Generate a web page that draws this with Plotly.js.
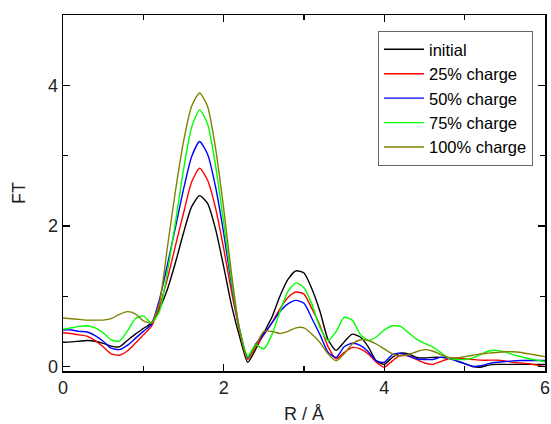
<!DOCTYPE html>
<html>
<head>
<meta charset="utf-8">
<script src="https://cdn.plot.ly/plotly-3.0.1.min.js"></script>
<style>html,body{margin:0;padding:0;background:#fff;}#chart{width:551px;height:424px;}</style>
</head>
<body>
<div id="chart"></div>
<script>
const R = [0,0.1,0.2,0.3,0.4,0.5,0.6,0.7,0.8,0.9,1.0,1.1,1.2,1.3,1.4,1.5,1.6,1.7,1.8,1.9,2.0,2.1,2.2,2.3,2.4,2.5,2.6,2.7,2.8,2.9,3.0,3.1,3.2,3.3,3.4,3.5,3.6,3.7,3.8,3.9,4.0,4.1,4.2,4.3,4.4,4.5,4.6,4.7,4.8,4.9,5.0,5.1,5.2,5.3,5.4,5.5,5.6,5.7,5.8,5.9,6.0];

const initial = [0.345,0.35,0.36,0.37,0.36,0.33,0.29,0.28,0.37,0.46,0.54,0.62,0.82,1.10,1.48,1.90,2.27,2.43,2.32,1.95,1.42,0.86,0.42,0.06,0.25,0.48,0.70,1.00,1.24,1.36,1.33,1.10,0.78,0.38,0.23,0.35,0.46,0.42,0.28,0.08,0.03,0.13,0.19,0.18,0.13,0.12,0.13,0.13,0.12,0.08,0.04,0.0,-0.01,0.02,0.03,0.03,0.03,0.03,0.03,0.03,0.03];

const charge25 = [0.48,0.47,0.45,0.43,0.37,0.28,0.18,0.16,0.22,0.33,0.45,0.57,0.85,1.25,1.72,2.18,2.62,2.82,2.65,2.25,1.68,1.05,0.50,0.10,0.28,0.45,0.62,0.82,0.98,1.06,1.03,0.82,0.58,0.28,0.11,0.20,0.27,0.25,0.18,0.06,-0.01,0.08,0.16,0.15,0.10,0.05,0.03,0.07,0.11,0.12,0.11,0.10,0.09,0.09,0.09,0.08,0.06,0.05,0.04,0.02,0.0];

const charge50 = [0.52,0.52,0.50,0.49,0.44,0.36,0.26,0.24,0.30,0.40,0.50,0.60,0.95,1.45,1.98,2.52,2.98,3.20,3.02,2.55,1.90,1.15,0.52,0.12,0.32,0.46,0.62,0.78,0.89,0.94,0.90,0.68,0.45,0.20,0.13,0.28,0.33,0.30,0.21,0.08,0.06,0.17,0.19,0.15,0.11,0.10,0.10,0.13,0.12,0.08,0.04,0.0,0.01,0.04,0.06,0.07,0.08,0.085,0.085,0.085,0.085];

const charge75 = [0.53,0.55,0.57,0.58,0.55,0.48,0.38,0.36,0.50,0.68,0.72,0.62,0.78,1.35,2.05,2.80,3.40,3.65,3.45,2.85,2.05,1.20,0.52,0.15,0.31,0.25,0.45,0.78,1.07,1.19,1.12,0.88,0.55,0.37,0.50,0.70,0.66,0.46,0.37,0.42,0.52,0.58,0.57,0.48,0.39,0.33,0.28,0.20,0.12,0.10,0.10,0.12,0.17,0.22,0.23,0.21,0.17,0.14,0.11,0.09,0.07];

const charge100 = [0.69,0.68,0.67,0.66,0.66,0.66,0.68,0.74,0.78,0.75,0.65,0.62,0.90,1.70,2.50,3.20,3.70,3.89,3.70,3.10,2.25,1.30,0.50,0.11,0.30,0.50,0.50,0.47,0.50,0.55,0.55,0.46,0.34,0.18,0.08,0.18,0.32,0.38,0.37,0.32,0.25,0.18,0.15,0.17,0.21,0.24,0.22,0.17,0.13,0.12,0.14,0.16,0.18,0.19,0.20,0.21,0.21,0.20,0.18,0.16,0.14];

const names = ['initial','25% charge','50% charge','75% charge','100% charge'];
const colors = ['#000000','#ff0000','#0000ff','#00ff00','#808000'];
const series = [initial, charge25, charge50, charge75, charge100];

const xTickVals = [0,2,4,6];
const yTickVals = [0,2,4];

const traces = series.map((s,i)=>({
  x: R, y: s, type:'scatter', mode:'lines', name: names[i],
  line:{color:colors[i], width:1.4, shape:'spline', smoothing:0.6}
}));

const font = 'Liberation Sans, Arial, sans-serif';
const layout = {
  width:551, height:424,
  margin:{l:63, r:6, t:15, b:52.5},
  paper_bgcolor:'#fff', plot_bgcolor:'#fff',
  showlegend:true,
  font:{family:font, color:'#222', size:18},
  xaxis:{
    range:[0,6], tickvals:xTickVals, ticktext:xTickVals.map(String),
    ticks:'inside', ticklen:7, tickwidth:1.2, tickcolor:'#000',
    minor:{dtick:1, tick0:0, ticks:'inside', ticklen:5, tickwidth:1.2, tickcolor:'#000', showgrid:false},
    showline:true, linecolor:'#000', linewidth:1.5, mirror:'ticks',
    showgrid:false, zeroline:false,
    tickfont:{family:font, size:18, color:'#222'},
    title:{text:'R / Å', font:{family:font, size:18, color:'#222'}, standoff:10}
  },
  yaxis:{
    range:[-0.064,5.0], tickvals:yTickVals, ticktext:yTickVals.map(String),
    ticks:'inside', ticklen:7, tickwidth:1.2, tickcolor:'#000',
    minor:{dtick:1, tick0:0, ticks:'inside', ticklen:5, tickwidth:1.2, tickcolor:'#000', showgrid:false},
    showline:true, linecolor:'#000', linewidth:1.5, mirror:'ticks',
    showgrid:false, zeroline:false,
    tickfont:{family:font, size:18, color:'#222'},
    title:{text:'FT', font:{family:font, size:18, color:'#222'}, standoff:17}
  },
  legend:{
    x:0.6535, y:0.955, xanchor:'left', yanchor:'top',
    bgcolor:'#fff', bordercolor:'#666', borderwidth:1,
    font:{family:font, size:16.5, color:'#000'},
    itemwidth:40,
    tracegroupgap:0
  }
};

Plotly.newPlot('chart', traces, layout, {displayModeBar:false, staticPlot:true});
</script>
</body>
</html>
